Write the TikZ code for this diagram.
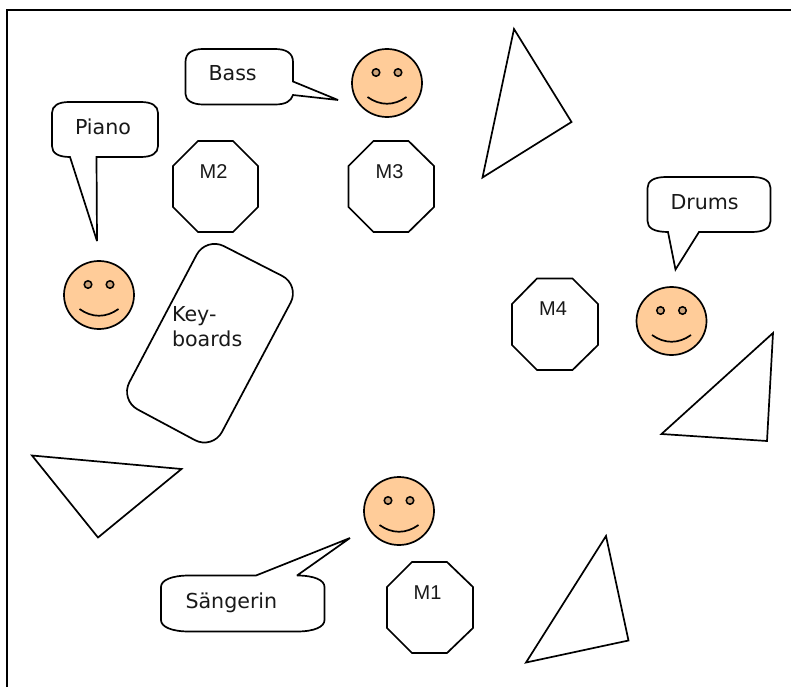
\documentclass[tikz,border=0pt]{standalone}
\usepackage{fontspec}
\setmainfont{DejaVu Sans}
\newfontfamily\octfont{Liberation Sans}
\definecolor{skin}{RGB}{255,204,153}
\usetikzlibrary{shapes.geometric}
\tikzset{
  x=1pt,y=-1pt,
  shapeline/.style={draw=black,line width=1.7pt,line join=miter,fill=white},
  lbl/.style={anchor=base west,inner sep=0pt,outer sep=0pt,font=\fontsize{20.6}{25}\selectfont,text=black!90},
  octlbl/.style={anchor=base,inner sep=0pt,outer sep=0pt,font=\octfont\fontsize{20}{24}\selectfont,text=black!90},
  face/.style={draw=black,line width=1.7pt,fill=skin,ellipse,minimum width=70pt,minimum height=68pt,inner sep=0pt},
  eye/.style={draw=black,line width=1.5pt,fill=skin!80!black,circle,minimum size=7.5pt,inner sep=0pt},
  frameline/.style={draw=black,line width=1.8pt}
}
\newcommand{\smiley}[3]{%
  \node[face] (#3) at (#1,#2) {};
  \node[eye] (#3eyeL) at (#1-11,#2-10.5) {};
  \node[eye] (#3eyeR) at (#1+11,#2-10.5) {};
  \draw[line width=1.7pt] (#1-19.5,#2+14) .. controls (#1-7,#2+23) and (#1+7,#2+23) .. (#1+19.5,#2+14);
}
\begin{document}
\begin{tikzpicture}
\useasboundingbox (0,0) rectangle (791,687);
\coordinate (fa) at (7,687);
\coordinate (fb) at (7,10);
\coordinate (fc) at (791,10);
\draw[frameline] (fa) -- (fb) -- (fc);

% triangles
\draw[shapeline] (514,29) -- (571.5,122) -- (482.5,177.5) -- cycle;
\draw[shapeline] (773,333) -- (767,441) -- (661.5,434) -- cycle;
\draw[shapeline] (32,455.5) -- (181.5,469) -- (98,537.5) -- cycle;
\draw[shapeline] (606,536) -- (628.5,640.5) -- (526,662.5) -- cycle;

% octagons
\draw[shapeline] (198,141) -- (233,141) -- (258,166) -- (258,207) -- (233,232) -- (198,232) -- (173,207) -- (173,166) -- cycle;
\draw[shapeline] (373.5,141) -- (408.5,141) -- (434,166) -- (434,207) -- (408.5,232) -- (373.5,232) -- (348.5,207) -- (348.5,166) -- cycle;
\draw[shapeline] (537,278.5) -- (572.5,278.5) -- (598,304) -- (598,345) -- (572.5,370) -- (537,370) -- (512,345) -- (512,304) -- cycle;
\draw[shapeline] (412,562) -- (447,562) -- (473,587) -- (473,628) -- (447,653) -- (412,653) -- (387,628) -- (387,587) -- cycle;
\node[octlbl] (m2) at (213.5,178) {M2};
\node[octlbl] (m3) at (389.5,178) {M3};
\node[octlbl] (m4) at (553,315) {M4};
\node[octlbl] (m1) at (427.5,599) {M1};

% speech bubbles
\draw[shapeline,miter limit=3] (185.5,62) .. controls (185.5,53) and (192,49) .. (203,49) -- (275,49) .. controls (286,49) and (293,53) .. (293,62)
  -- (293,81.5) -- (338,100) -- (293,95) .. controls (291,101) and (286,104.5) .. (275,104.5) -- (203,104.5)
  .. controls (192,104.5) and (185.5,100) .. (185.5,94) -- cycle;
\node[lbl] (bass) at (208.5,81) {Bass};

\draw[shapeline,miter limit=3] (52,113) .. controls (52,106) and (58,102) .. (69,102) -- (141,102) .. controls (152,102) and (158,106) .. (158,113)
  -- (158,146) .. controls (158,153) and (152,157) .. (141,157) -- (96.5,157) -- (97,241) -- (70,157)
  .. controls (58,157) and (52,153) .. (52,146) -- cycle;
\node[lbl] (piano) at (75,135) {Piano};

\draw[shapeline] (647.5,188) .. controls (647.5,181) and (654,177) .. (666,177) -- (752,177) .. controls (764,177) and (770.5,181) .. (770.5,188)
  -- (770.5,221) .. controls (770.5,228) and (764,232) .. (752,232) -- (699,232) -- (675.5,269.5) -- (668,232)
  .. controls (654,232) and (647.5,228) .. (647.5,221) -- cycle;
\node[lbl] (drums) at (670.5,209) {Drums};

\draw[shapeline,miter limit=3] (161,587) .. controls (161,580) and (172,575.5) .. (189,575.5) -- (256,575.5) -- (350,538) -- (297,575.5)
  .. controls (314,575.5) and (324.5,580) .. (324.5,587) -- (324.5,620) .. controls (324.5,627) and (314,631.5) .. (297,631.5)
  -- (189,631.5) .. controls (172,631.5) and (161,627) .. (161,620) -- cycle;
\node[lbl] (saengerin) at (185.5,608) {Sängerin};

% keyboards
\draw[shapeline,rounded corners=20pt] (206,237) -- (300,285) -- (212.6,449.6) -- (120,400) -- cycle;
\node[lbl,align=left] (keys) at (172,346) {Key-\\boards};

% faces
\smiley{387}{83}{fBass}
\smiley{99}{295}{fPiano}
\smiley{399}{511}{fSinger}
\smiley{671.5}{321}{fDrums}
\end{tikzpicture}
\end{document}
